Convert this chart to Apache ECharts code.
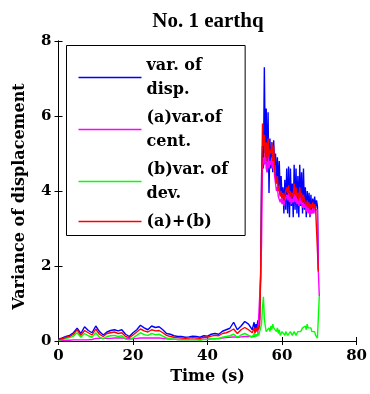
<!DOCTYPE html>
<html>
<head>
<meta charset="utf-8">
<script src="https://cdn.jsdelivr.net/npm/echarts@6/dist/echarts.min.js"></script>
<style>
html,body{margin:0;padding:0;background:#fff;}
#chart{width:370px;height:394px;}
</style>
</head>
<body>
<div id="chart"></div>
<script>
// time samples (s)
const lowTimes = [0,1,2,3,4,5,6,7,8,9,10,11,12,13,14,15,16,17,18,19,20,21,22,23,24,25,26,27,28,29,30,31,32,33,34,35,36,37,38,39,40,41,42,43,44,45,46,47,48,49,50,51,52];
const spikeTimes = [52.25,52.5,52.75,53,53.25,53.5,53.75,54,54.25,54.5,54.75,55,55.25,55.5,55.75,56,56.25,56.5,56.75,57,57.25,57.5,57.75,58,58.25,58.5,58.75,59,59.25,59.5,59.75,60,60.25,60.5,60.75,61,61.25,61.5,61.75,62,62.25,62.5,62.75,63,63.25,63.5,63.75,64,64.25,64.5,64.75,65,65.25,65.5,65.75,66,66.25,66.5,66.75,67,67.25,67.5,67.75,68,68.25,68.5,68.75,69,69.25,69.5,69.75,70];

// var. of disp.
const dispLow = [0.05,0.08,0.12,0.15,0.22,0.34,0.2,0.38,0.28,0.22,0.4,0.25,0.16,0.24,0.28,0.3,0.27,0.3,0.18,0.12,0.22,0.3,0.42,0.35,0.3,0.4,0.36,0.38,0.3,0.2,0.18,0.14,0.12,0.12,0.1,0.11,0.13,0.12,0.1,0.14,0.13,0.18,0.2,0.18,0.26,0.3,0.34,0.5,0.3,0.4,0.52,0.45,0.3];
const dispSpike = [0.35,0.5,0.3,0.45,0.35,0.55,0.4,0.6,1.75,
  4.4,5.2,4.6,7.3,5.0,6.2,4.5,6.1,3.95,5.4,4.6,5.3,4.5,5.35,4.7,5.0,4.2,4.9,4.1,4.8,3.9,4.4,
  3.8,4.1,3.4,4.3,3.5,4.6,3.4,4.65,3.3,4.6,3.6,4.2,3.3,4.7,3.5,4.6,3.4,4.4,3.3,4.7,3.6,4.5,3.4,4.6,3.5,4.1,3.3,4.0,3.5,3.95,3.3,3.9,3.4,3.8,3.5,3.85,3.55,3.75,3.6,
  1.9,null];

// (a) var. of cent.
const centLow = [0,0.01,0.02,0.02,0.03,0.03,0.03,0.03,0.03,0.04,0.07,0.07,0.07,0.07,0.07,0.08,0.08,0.08,0.07,0.06,0.06,0.07,0.08,0.08,0.08,0.08,0.08,0.08,0.07,0.06,0.05,0.05,0.04,0.04,0.04,0.04,0.04,0.04,0.04,0.05,0.05,0.06,0.06,0.07,0.08,0.09,0.1,0.11,0.1,0.11,0.12,0.12,0.12];
const centSpike = [0.12,0.13,0.12,0.15,0.14,0.17,0.16,0.2,1.7,
  2.6,4.7,4.9,4.7,5.0,4.6,4.5,5.0,4.6,4.8,4.7,4.9,4.6,4.8,4.4,4.2,4.0,4.1,3.85,3.9,3.7,3.8,
  3.65,3.8,3.6,3.75,3.7,3.9,3.75,3.95,3.7,3.85,3.65,3.8,3.7,3.95,3.7,3.9,3.65,3.8,3.6,3.9,3.65,3.75,3.55,3.7,3.55,3.65,3.45,3.6,3.4,3.55,3.35,3.5,3.4,3.55,3.4,3.5,3.45,3.5,3.5,
  1.85,1.2];

// (b) var. of dev.
const devLow = [0.02,0.04,0.07,0.09,0.13,0.22,0.1,0.2,0.14,0.1,0.22,0.1,0.06,0.12,0.14,0.15,0.12,0.14,0.05,0.03,0.08,0.15,0.22,0.17,0.15,0.2,0.17,0.18,0.13,0.08,0.06,0.05,0.04,0.03,0.03,0.03,0.04,0.03,0.02,0.04,0.04,0.06,0.07,0.06,0.1,0.12,0.14,0.18,0.1,0.16,0.2,0.15,0.1];
const devSpike = [0.12,0.2,0.1,0.18,0.12,0.22,0.15,0.25,0.3,
  0.45,0.9,1.18,0.6,0.4,0.25,0.3,0.2,0.35,0.25,0.4,0.3,0.45,0.35,0.3,0.4,0.25,0.35,0.2,0.3,0.15,0.2,
  0.25,0.3,0.2,0.15,0.25,0.2,0.15,0.2,0.15,0.25,0.2,0.15,0.2,0.25,0.2,0.15,0.2,0.25,0.2,0.3,0.25,0.3,0.35,0.4,0.35,0.4,0.3,0.45,0.35,0.4,0.3,0.35,0.25,0.3,0.2,0.25,0.15,0.1,0.08,
  0.1,1.2];

// (a)+(b)
const sumLow = [0.04,0.06,0.1,0.12,0.18,0.3,0.15,0.28,0.22,0.16,0.32,0.18,0.12,0.2,0.22,0.24,0.2,0.22,0.12,0.09,0.16,0.24,0.32,0.27,0.24,0.3,0.27,0.28,0.22,0.15,0.12,0.1,0.09,0.08,0.07,0.08,0.09,0.08,0.07,0.1,0.1,0.13,0.15,0.14,0.2,0.22,0.26,0.32,0.2,0.3,0.36,0.3,0.22];
const sumSpike = [0.25,0.35,0.2,0.35,0.25,0.4,0.3,0.45,1.7,
  4.0,5.8,5.2,5.5,4.9,5.3,4.8,5.4,4.9,5.1,5.0,5.3,4.8,5.2,4.6,4.4,4.2,4.4,4.0,4.1,3.85,4.0,
  3.8,3.95,3.75,3.9,3.85,4.1,3.95,4.15,3.9,4.0,3.8,3.95,3.85,4.2,3.9,4.1,3.85,3.95,3.75,4.1,3.85,3.95,3.7,3.9,3.75,3.8,3.6,3.75,3.55,3.7,3.5,3.65,3.55,3.7,3.5,3.65,3.55,3.6,3.6,
  1.85,null];

const xTicks = [0,20,40,60,80];
const yTicks = [0,2,4,6,8];
const seriesNames = ['var. of\ndisp.', '(a)var.of\ncent.', '(b)var. of\ndev.', '(a)+(b)'];
const seriesColors = ['#0000ff', '#ff00ff', '#00ff00', '#ff0000'];

const times = lowTimes.concat(spikeTimes);
const allValues = [dispLow.concat(dispSpike), centLow.concat(centSpike), devLow.concat(devSpike), sumLow.concat(sumSpike)];

function pairs(vals){
  const out = [];
  for (let i = 0; i < times.length; i++) {
    if (vals[i] !== null && vals[i] !== undefined) out.push([times[i], vals[i]]);
  }
  return out;
}

const FONT = 'DejaVu Serif';
const chart = echarts.init(document.getElementById('chart'), null, {renderer: 'canvas'});

const axisCommon = {
  axisLine: {show: true, lineStyle: {color: '#000', width: 1}},
  axisTick: {show: true, inside: true, length: 4, lineStyle: {color: '#000', width: 1}},
  splitLine: {show: false}
};

chart.setOption({
  animation: false,
  backgroundColor: '#fff',
  title: {
    text: 'No. 1 earthq',
    left: 203,
    textAlign: 'center',
    top: 6,
    textStyle: {fontFamily: 'Liberation Serif', fontWeight: 'bold', fontSize: 21, color: '#000'}
  },
  grid: {left: 58.5, right: 9.5, top: 41, bottom: 53, containLabel: false},
  legend: {
    data: seriesNames.map((n) => ({name: n, icon: 'rect'})),
    orient: 'vertical',
    left: 66.5,
    top: 45.5,
    padding: [8, 17, 2, 12],
    itemWidth: 63,
    itemHeight: 1.5,
    itemGap: 4,
    align: 'left',
    backgroundColor: '#fff',
    borderColor: '#000',
    borderWidth: 1,
    borderRadius: 0,
    textStyle: {fontFamily: FONT, fontWeight: 'bold', fontSize: 16, lineHeight: 24, color: '#000', align: 'left'}
  },
  xAxis: [
    Object.assign({
      type: 'value', min: xTicks[0], max: xTicks[xTicks.length-1], interval: xTicks[1]-xTicks[0],
      position: 'bottom',
      name: 'Time (s)', nameLocation: 'middle', nameGap: 28,
      nameTextStyle: {fontFamily: FONT, fontWeight: 'bold', fontSize: 16, color: '#000'},
      axisLabel: {fontFamily: FONT, fontWeight: 'bold', fontSize: 15, color: '#000', margin: 8}
    }, axisCommon),
    Object.assign({
      type: 'value', min: xTicks[0], max: xTicks[xTicks.length-1], interval: xTicks[1]-xTicks[0],
      position: 'top', axisLabel: {show: false}
    }, axisCommon)
  ],
  yAxis: [
    Object.assign({
      type: 'value', min: yTicks[0], max: yTicks[yTicks.length-1], interval: yTicks[1]-yTicks[0],
      position: 'left',
      name: 'Variance of displacement', nameLocation: 'middle', nameGap: 31,
      nameTextStyle: {fontFamily: FONT, fontWeight: 'bold', fontSize: 16, color: '#000', padding: [0, 11, 0, 0]},
      axisLabel: {fontFamily: FONT, fontWeight: 'bold', fontSize: 15, color: '#000', margin: 7}
    }, axisCommon),
    Object.assign({
      type: 'value', min: yTicks[0], max: yTicks[yTicks.length-1], interval: yTicks[1]-yTicks[0],
      position: 'right', axisLabel: {show: false}
    }, axisCommon)
  ],
  series: seriesNames.map((name, k) => ({
    name: name,
    type: 'line',
    xAxisIndex: 0,
    yAxisIndex: 0,
    data: pairs(allValues[k]),
    symbol: 'none',
    showSymbol: false,
    smooth: false,
    color: seriesColors[k],
    lineStyle: {color: seriesColors[k], width: 1.4},
    emphasis: {disabled: true},
    z: 2 + k
  }))
});
</script>
</body>
</html>
